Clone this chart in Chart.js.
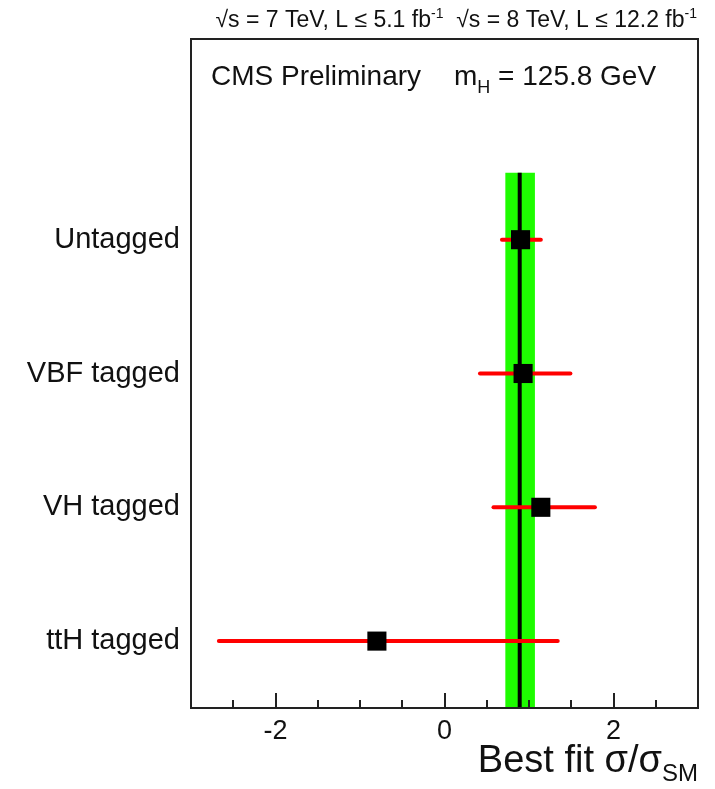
<!DOCTYPE html>
<html lang="en">
<head>
  <meta charset="UTF-8">
  <title>Best fit sigma/sigma_SM per category</title>
  <style>
    * { margin: 0; padding: 0; }
    body { background: #fff; }
    #wrap { width: 715px; height: 789px; }
  </style>
</head>
<body>
  <div id="wrap"><canvas id="chart" width="715" height="789"></canvas></div>

  <script src="https://cdn.jsdelivr.net/npm/chart.js@4.4.1/dist/chart.umd.min.js"></script>
  <script>
    // categories, listed top to bottom, and their position on the y scale
    const categories = ['Untagged', 'VBF tagged', 'VH tagged', 'ttH tagged'];
    const catPos = [3.5, 2.5, 1.5, 0.5];

    // best fit value per category and its 68% interval
    const bestFit = [0.90, 0.93, 1.14, -0.80];
    const errLow = [0.68, 0.42, 0.58, -2.67];
    const errHigh = [1.14, 1.49, 1.78, 1.34];

    // combined result: central value and band
    const combined = 0.89;
    const combinedLow = 0.72;
    const combinedHigh = 1.07;
    const bandBottom = 0;
    const bandTop = 4;

    const xTickLabels = [-2, 0, 2];

    const FONT = "'Liberation Sans', Arial, Helvetica, sans-serif";
    const INK = '#111';

    const datasets = [];

    // green band for the combined result
    datasets.push({
      type: 'line',
      data: [
        {x: combinedLow, y: bandBottom}, {x: combinedLow, y: bandTop},
        {x: combinedHigh, y: bandTop}, {x: combinedHigh, y: bandBottom}
      ],
      showLine: true,
      borderWidth: 0,
      borderColor: 'rgba(0,0,0,0)',
      backgroundColor: '#1efc00',
      fill: 'shape',
      pointRadius: 0,
      order: 4
    });

    // combined central value
    datasets.push({
      type: 'line',
      data: [{x: combined, y: bandBottom}, {x: combined, y: bandTop}],
      showLine: true,
      borderWidth: 4,
      borderColor: '#000',
      pointRadius: 0,
      fill: false,
      order: 3
    });

    // error bars
    categories.forEach((c, i) => {
      datasets.push({
        type: 'line',
        data: [{x: errLow[i], y: catPos[i]}, {x: errHigh[i], y: catPos[i]}],
        showLine: true,
        borderWidth: 4,
        borderColor: '#ff0000',
        borderCapStyle: 'round',
        pointRadius: 0,
        fill: false,
        order: 2
      });
    });

    // best fit markers
    datasets.push({
      type: 'scatter',
      data: categories.map((c, i) => ({x: bestFit[i], y: catPos[i]})),
      pointStyle: 'rect',
      pointRadius: 13.5,
      backgroundColor: '#000',
      borderColor: '#000',
      borderWidth: 0,
      order: 1
    });

    function drawRich(ctx, parts, x, y, align) {
      let w = 0;
      parts.forEach(p => {
        ctx.font = p.size + 'px ' + FONT;
        w += ctx.measureText(p.t).width;
      });
      let cx = align === 'right' ? x - w : x;
      ctx.textAlign = 'left';
      ctx.textBaseline = 'alphabetic';
      parts.forEach(p => {
        ctx.font = p.size + 'px ' + FONT;
        ctx.fillText(p.t, cx, y + (p.dy || 0));
        cx += ctx.measureText(p.t).width;
      });
    }

    const decorations = {
      id: 'decorations',
      afterDraw(chart) {
        const ctx = chart.ctx;
        const a = chart.chartArea;
        const xs = chart.scales.x;
        ctx.save();
        ctx.fillStyle = INK;
        ctx.strokeStyle = '#222';

        // frame
        ctx.lineWidth = 2;
        ctx.strokeRect(a.left, a.top, a.right - a.left, a.bottom - a.top);

        // inward ticks on the x axis
        ctx.lineWidth = 2;
        xs.ticks.forEach(t => {
          if (t.value <= xs.min || t.value >= xs.max) return;
          const px = Math.round(xs.getPixelForValue(t.value));
          const major = Math.abs(t.value % 2) < 1e-9;
          const len = major ? 15 : 8;
          ctx.beginPath();
          ctx.moveTo(px, a.bottom);
          ctx.lineTo(px, a.bottom - len);
          ctx.stroke();
        });

        // header above the frame
        drawRich(ctx, [
          {t: '\u221As = 7 TeV, L \u2264 5.1 fb', size: 23},
          {t: '-1', size: 14, dy: -9},
          {t: '  \u221As = 8 TeV, L \u2264 12.2 fb', size: 23},
          {t: '-1', size: 14, dy: -9}
        ], a.right - 1, 27, 'right');

        // labels inside the frame
        drawRich(ctx, [{t: 'CMS Preliminary', size: 28}], a.left + 20, 85, 'left');
        drawRich(ctx, [
          {t: 'm', size: 28},
          {t: 'H', size: 18, dy: 8},
          {t: ' = 125.8 GeV', size: 28}
        ], a.left + 263, 85, 'left');

        // x axis title
        drawRich(ctx, [
          {t: 'Best fit \u03C3/\u03C3', size: 38},
          {t: 'SM', size: 24, dy: 9}
        ], a.right, 772, 'right');

        ctx.restore();
      }
    };

    new Chart(document.getElementById('chart'), {
      type: 'scatter',
      data: {datasets},
      options: {
        responsive: false,
        animation: false,
        events: [],
        layout: {padding: {left: 0, right: 17, top: 39, bottom: 0}},
        plugins: {
          legend: {display: false},
          tooltip: {enabled: false}
        },
        scales: {
          x: {
            type: 'linear',
            min: -3,
            max: 3,
            afterFit: s => { s.height = 81; },
            grid: {display: false, drawTicks: false},
            border: {display: false},
            ticks: {
              stepSize: 0.5,
              autoSkip: false,
              maxRotation: 0,
              padding: 7,
              color: INK,
              font: {family: FONT, size: 27},
              callback: v => xTickLabels.includes(v) ? String(v) : ''
            }
          },
          y: {
            type: 'linear',
            min: 0,
            max: 5,
            afterFit: s => { s.width = 191; },
            afterBuildTicks: s => { s.ticks = catPos.map(v => ({value: v})); },
            grid: {display: false, drawTicks: false},
            border: {display: false},
            ticks: {
              padding: 11,
              color: INK,
              font: {family: FONT, size: 29},
              callback: v => {
                const i = catPos.indexOf(v);
                return i >= 0 ? categories[i] : '';
              }
            }
          }
        }
      },
      plugins: [decorations]
    });
  </script>
</body>
</html>
